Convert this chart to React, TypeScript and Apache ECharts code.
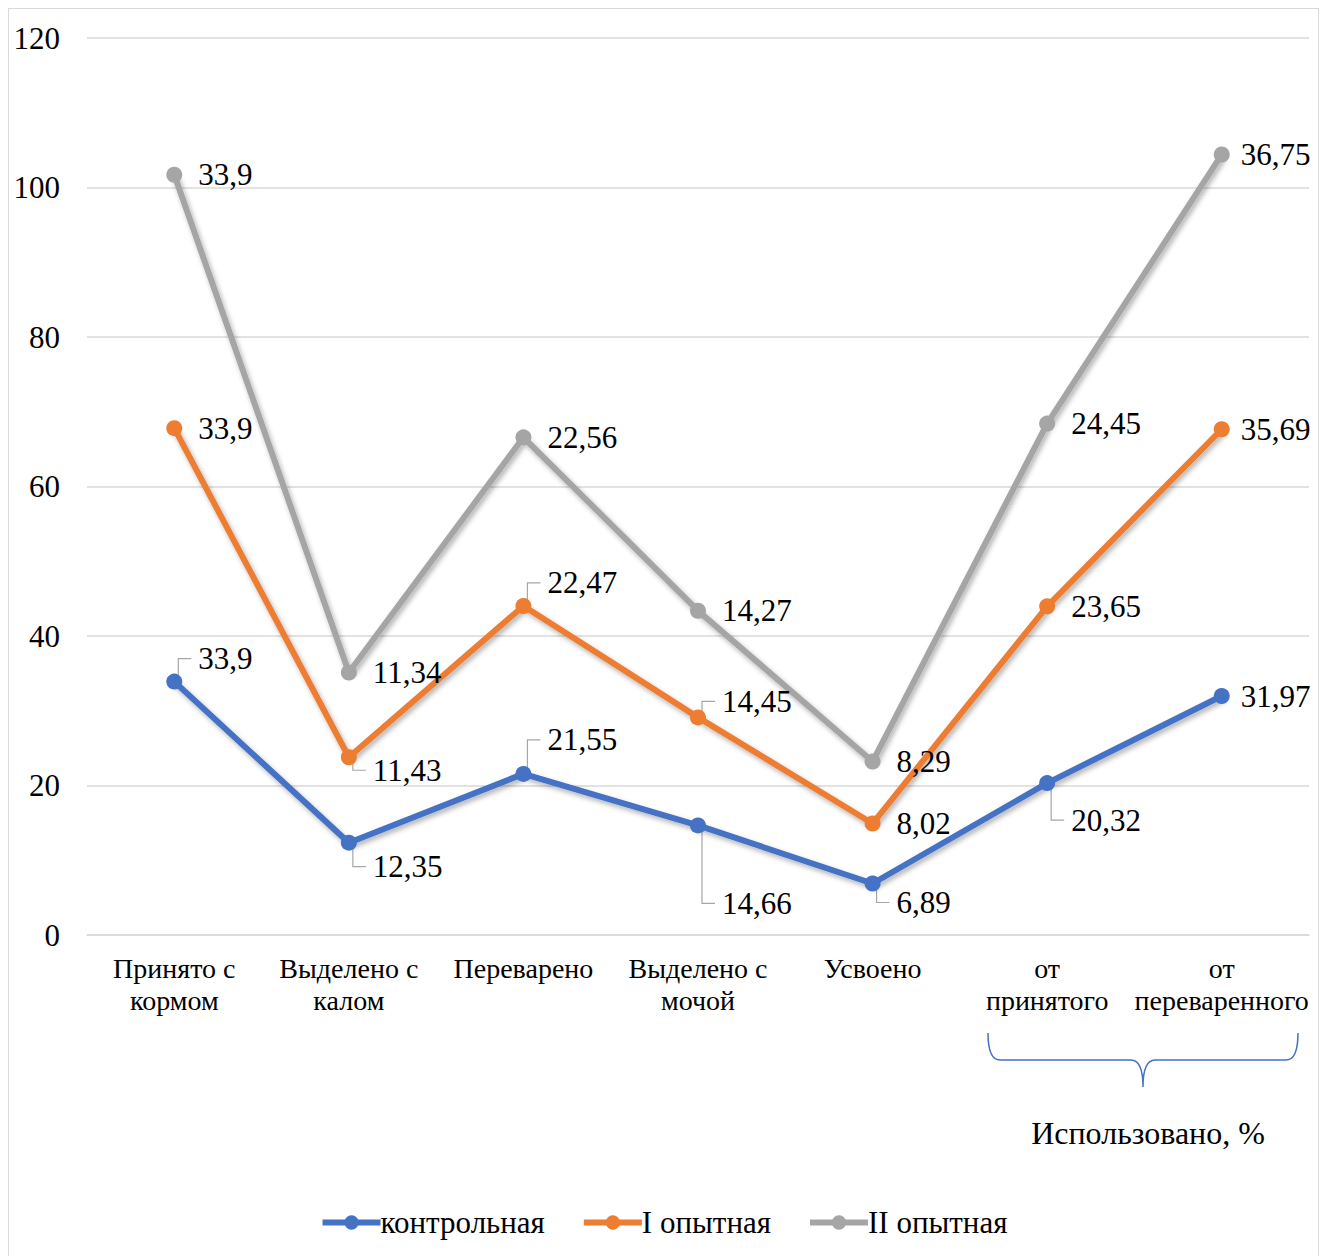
import React, { useEffect, useRef } from "react";
import * as echarts from "echarts";

const categories = [
  "Принято с\nкормом",
  "Выделено с\nкалом",
  "Переварено",
  "Выделено с\nмочой",
  "Усвоено",
  "от\nпринятого",
  "от\nпереваренного",
];
const seriesNames = ["контрольная", "I опытная", "II опытная"];
const control = [33.9, 12.35, 21.55, 14.66, 6.89, 20.32, 31.97];
const firstExp = [33.9, 11.43, 22.47, 14.45, 8.02, 23.65, 35.69];
const secondExp = [33.9, 11.34, 22.56, 14.27, 8.29, 24.45, 36.75];
const yTicks = { min: 0, max: 120, interval: 20 };
const groupTitle = "Использовано, %";

// label shifts (px) mimicking the reference placement
const labelShift = [
  [-23, 24, -34, 78, 19, 37, 0],
  [0, 13, -23, -16, 0, 0, 0],
  [0, 0, 0, 0, 0, 0, 0],
];
const labelShiftX = [0, 0, 0, 0, 0, 0, -5];

const colors = ["#4472C4", "#ED7D31", "#A5A5A5"];
const FONT = "'Liberation Serif', 'Times New Roman', serif";
const SYM = 16;
const LABEL_DIST = 16;

echarts.graphic.registerShape(
  "brace",
  echarts.graphic.extendPath(
    "M979,1024 Q979,1051 991,1051 L1122,1051 Q1134,1051 1134,1078 Q1134,1051 1146,1051 L1277,1051 Q1289,1051 1289,1024",
    {}
  )
);

export default function App() {
  const ref = useRef<HTMLDivElement>(null);
  useEffect(() => {
    if (!ref.current) return;
    const chart = echarts.init(ref.current, null, { renderer: "svg" });
    const data = [control, firstExp, secondExp];
    const staticGraphics: any[] = [
      {
        id: "brace",
        type: "brace",
        x: 0,
        y: 0,
        style: { stroke: "#4472C4", fill: "none", lineWidth: 1.5 },
      },
      {
        id: "groupTitle",
        type: "text",
        x: 1139,
        y: 1124,
        style: {
          text: groupTitle,
          fontSize: 32,
          fontFamily: FONT,
          fill: "#000",
          align: "center",
          verticalAlign: "middle",
        },
      },
    ];
    chart.setOption({
      animation: false,
      backgroundColor: "#fff",
      textStyle: { fontFamily: FONT },
      grid: { left: 78, right: 9, top: 29, bottom: 332, containLabel: false },
      legend: {
        top: 1193,
        left: "center",
        itemWidth: 58,
        itemHeight: 18,
        itemGap: 36,
        lineStyle: { width: 6 },
        textStyle: {
          fontSize: 31,
          color: "#000",
          fontFamily: FONT,
          padding: [0, 0, 0, -5],
        },
        data: seriesNames,
      },
      xAxis: {
        type: "category",
        data: categories,
        boundaryGap: true,
        axisLine: { lineStyle: { color: "#D9D9D9", width: 1.5 } },
        axisTick: { show: false },
        axisLabel: {
          interval: 0,
          fontSize: 28,
          lineHeight: 32,
          color: "#000",
          margin: 17,
          fontFamily: FONT,
        },
      },
      yAxis: {
        type: "value",
        min: yTicks.min,
        max: yTicks.max,
        interval: yTicks.interval,
        axisLine: { show: false },
        axisTick: { show: false },
        splitLine: { lineStyle: { color: "#D9D9D9", width: 1.5 } },
        axisLabel: { fontSize: 31, color: "#000", margin: 27, fontFamily: FONT },
      },
      graphic: staticGraphics,
      series: seriesNames.map((name, si) => ({
        name,
        type: "line",
        stack: "total",
        data: data[si],
        symbol: "circle",
        symbolSize: SYM,
        itemStyle: { color: colors[si] },
        lineStyle: {
          width: 6,
          color: colors[si],
          shadowColor: "rgba(0,0,0,0.3)",
          shadowBlur: 5,
          shadowOffsetX: 2,
          shadowOffsetY: 3,
        },
        label: {
          show: true,
          position: "right",
          distance: LABEL_DIST,
          fontSize: 31,
          color: "#000",
          fontFamily: FONT,
          formatter: (p: any) => String(p.value).replace(".", ","),
        },
        labelLayout: (p: any) => ({
          dx: labelShiftX[p.dataIndex],
          dy: labelShift[si][p.dataIndex],
        }),
        emphasis: { disabled: true },
      })),
    });

    // leader lines for shifted labels (elbow shape, as in the reference)
    const leaders: any[] = [];
    const cum = categories.map(() => 0);
    data.forEach((vals, si) => {
      vals.forEach((v, i) => {
        cum[i] += v;
        const dy = labelShift[si][i];
        if (!dy) return;
        const [px, py] = chart.convertToPixel({ gridIndex: 0 }, [i, cum[i]]) as number[];
        const ly = py + dy;
        const sign = dy > 0 ? 1 : -1;
        const vx = px + 4;
        leaders.push({
          type: "polyline",
          silent: true,
          z: 1,
          shape: {
            points: [
              [vx, py + sign * (SYM / 2 - 2)],
              [vx, ly],
              [px + SYM / 2 + LABEL_DIST - 7, ly],
            ],
          },
          style: { stroke: "#A6A6A6", lineWidth: 1.2, fill: "none" },
        });
      });
    });
    chart.setOption({ graphic: [...staticGraphics, ...leaders] }, { replaceMerge: ["graphic"] });

    return () => chart.dispose();
  }, []);
  return (
    <div
      style={{
        width: 1311,
        height: 1260,
        border: "1px solid #D9D9D9",
        boxSizing: "border-box",
      }}
    >
      <div ref={ref} style={{ width: "100%", height: "100%" }} />
    </div>
  );
}
